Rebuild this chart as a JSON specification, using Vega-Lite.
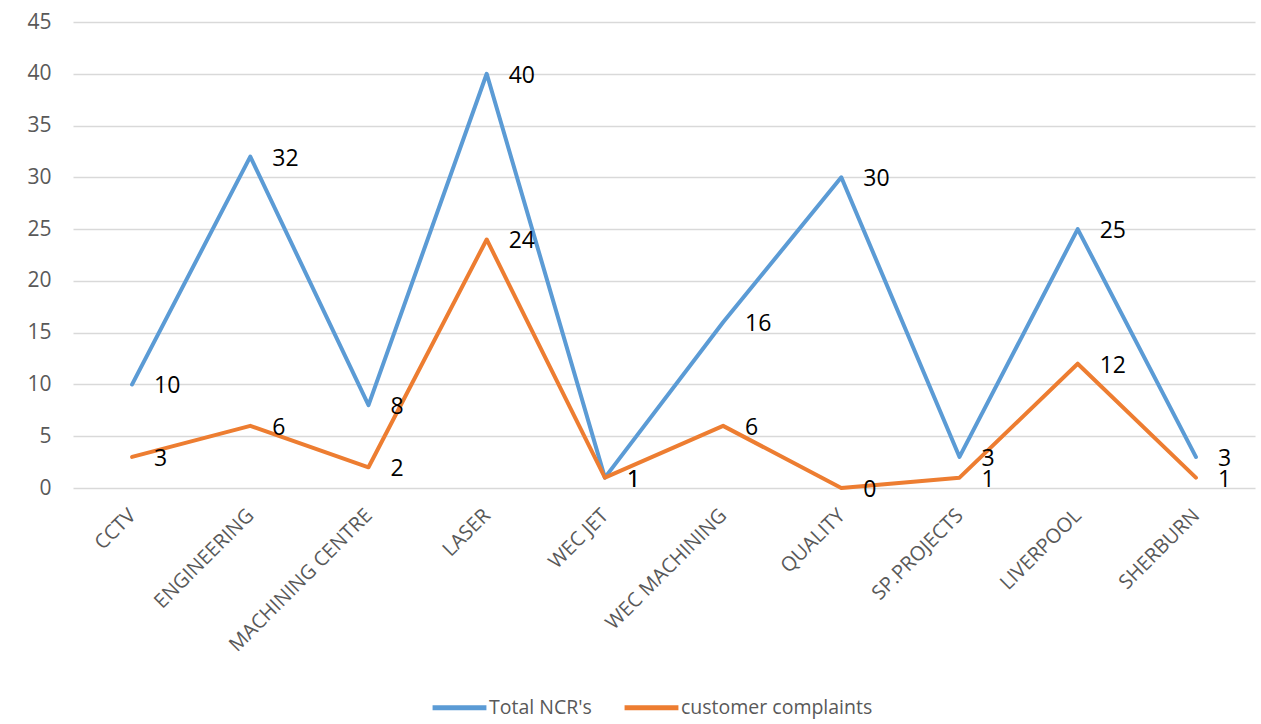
{
  "$schema": "https://vega.github.io/schema/vega-lite/v6.json",
  "width": 1182,
  "height": 466,
  "autosize": "none",
  "padding": {"left": 73, "top": 22, "right": 6, "bottom": 236},
  "background": "white",
  "config": {
    "view": {"stroke": null},
    "font": "Open Sans"
  },
  "data": {
    "values": [
      {"dept": "CCTV", "series": "Total NCR's", "value": 10},
      {"dept": "ENGINEERING", "series": "Total NCR's", "value": 32},
      {"dept": "MACHINING CENTRE", "series": "Total NCR's", "value": 8},
      {"dept": "LASER", "series": "Total NCR's", "value": 40},
      {"dept": "WEC JET", "series": "Total NCR's", "value": 1},
      {"dept": "WEC MACHINING", "series": "Total NCR's", "value": 16},
      {"dept": "QUALITY", "series": "Total NCR's", "value": 30},
      {"dept": "SP.PROJECTS", "series": "Total NCR's", "value": 3},
      {"dept": "LIVERPOOL", "series": "Total NCR's", "value": 25},
      {"dept": "SHERBURN", "series": "Total NCR's", "value": 3},
      {"dept": "CCTV", "series": "customer complaints", "value": 3},
      {"dept": "ENGINEERING", "series": "customer complaints", "value": 6},
      {"dept": "MACHINING CENTRE", "series": "customer complaints", "value": 2},
      {"dept": "LASER", "series": "customer complaints", "value": 24},
      {"dept": "WEC JET", "series": "customer complaints", "value": 1},
      {"dept": "WEC MACHINING", "series": "customer complaints", "value": 6},
      {"dept": "QUALITY", "series": "customer complaints", "value": 0},
      {"dept": "SP.PROJECTS", "series": "customer complaints", "value": 1},
      {"dept": "LIVERPOOL", "series": "customer complaints", "value": 12},
      {"dept": "SHERBURN", "series": "customer complaints", "value": 1}
    ]
  },
  "encoding": {
    "x": {
      "field": "dept",
      "type": "nominal",
      "sort": null,
      "scale": {"type": "point", "padding": 0.5},
      "axis": {
        "title": null,
        "labelAngle": -45,
        "labelAlign": "right",
        "labelBaseline": "middle",
        "labelFontSize": 20,
        "labelColor": "#595959",
        "labelPadding": 24,
        "labelLimit": 400,
        "ticks": false,
        "domain": false,
        "grid": false
      }
    },
    "y": {
      "field": "value",
      "type": "quantitative",
      "scale": {"domain": [0, 45], "nice": false},
      "axis": {
        "title": null,
        "values": [0, 5, 10, 15, 20, 25, 30, 35, 40, 45],
        "labelFontSize": 21,
        "labelColor": "#595959",
        "labelPadding": 22,
        "ticks": false,
        "domain": false,
        "gridColor": "#d9d9d9",
        "gridWidth": 1.5
      }
    }
  },
  "layer": [
    {
      "mark": {"type": "line", "strokeWidth": 4, "strokeCap": "round", "strokeJoin": "round"},
      "encoding": {
        "color": {
          "field": "series",
          "type": "nominal",
          "scale": {"domain": ["Total NCR's", "customer complaints"], "range": ["#5B9BD5", "#ED7D31"]},
          "legend": {
            "title": null,
            "orient": "none",
            "direction": "horizontal",
            "legendX": 357,
            "legendY": 656,
            "symbolType": "stroke",
            "symbolSize": 2900,
            "symbolStrokeWidth": 5,
            "labelFontSize": 19.5,
            "labelColor": "#595959",
            "labelOffset": 0,
            "labelLimit": 400,
            "columnPadding": 22
          }
        }
      }
    },
    {
      "mark": {"type": "text", "align": "left", "baseline": "middle", "dx": 22, "dy": 2, "fontSize": 23, "color": "#000000"},
      "encoding": {
        "text": {"field": "value", "type": "quantitative"}
      }
    }
  ]
}
